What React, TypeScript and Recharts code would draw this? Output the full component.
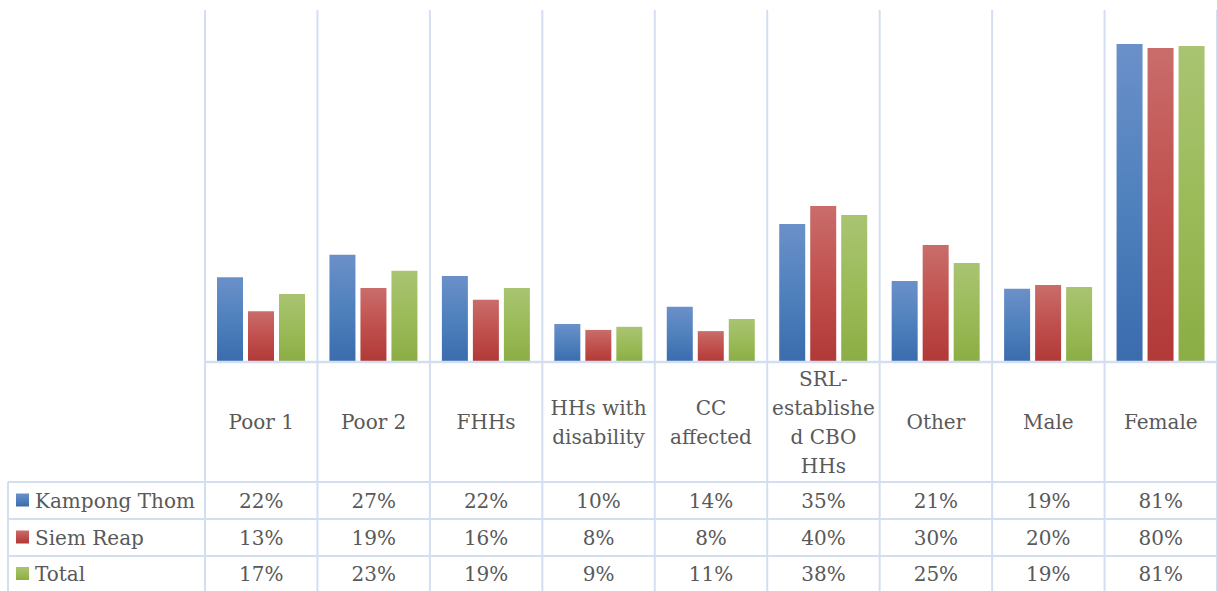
import React from 'react';
import { BarChart, Bar, XAxis, YAxis } from 'recharts';

const categories = ['Poor 1', 'Poor 2', 'FHHs', 'HHs with disability', 'CC affected', 'SRL-established CBO HHs', 'Other', 'Male', 'Female'];
const categoryLines = [['Poor 1'], ['Poor 2'], ['FHHs'], ['HHs with', 'disability'], ['CC', 'affected'], ['SRL-', 'establishe', 'd CBO', 'HHs'], ['Other'], ['Male'], ['Female']];
const kampongThom = [0.217, 0.274, 0.22, 0.097, 0.141, 0.353, 0.207, 0.187, 0.813];
const siemReap = [0.13, 0.189, 0.159, 0.082, 0.079, 0.399, 0.299, 0.197, 0.803];
const total = [0.174, 0.233, 0.189, 0.09, 0.11, 0.376, 0.253, 0.192, 0.808];
const seriesNames = ['Kampong Thom', 'Siem Reap', 'Total'];
const seriesKeys = ['kt', 'sr', 'total'];
const seriesValues = [kampongThom, siemReap, total];
const seriesColors = ['#4f81bd', '#c0504d', '#9bbb59'];
const gradTop = ['#6b90c9', '#c96d6b', '#a9c472'];
const gradBottom = ['#3a6cae', '#b13937', '#8bad44'];

const data = categories.map((name, i) => ({ name, kt: kampongThom[i], sr: siemReap[i], total: total[i] }));

const W = 1217;
const H = 591;
const LEFT = 205;
const TOP = 10;
const BASE = 362;
const BW = (W - LEFT) / categories.length;
const ROW_LINES = [482, 519, 556];
const ROW_CENTERS = [500.5, 537.5, 574];
const LINE = '#d3dff1';
const TEXT = '#595959';
const FONT = '"DejaVu Serif", serif';
const FS = 20;

const pct = (v: number) => `${Math.round(v * 100)}%`;

const Tick = (props: any) => {
  const { x, payload } = props;
  const i = props.index ?? payload.index;
  const half = payload && payload.offset ? payload.offset : BW / 2;
  const left = x - half;
  const right = x + half;
  const lines = categoryLines[i];
  const lh = 29;
  const hc = 422;
  return (
    <g>
      <line x1={left} x2={left} y1={TOP} y2={H + 5} stroke={LINE} strokeWidth={2} />
      {i === categories.length - 1 && (
        <line x1={right} x2={right} y1={TOP} y2={H + 5} stroke={LINE} strokeWidth={2} />
      )}
      <line x1={left} x2={right} y1={BASE} y2={BASE} stroke={LINE} strokeWidth={2.5} />
      {ROW_LINES.map((y) => (
        <line key={y} x1={left} x2={right} y1={y} y2={y} stroke={LINE} strokeWidth={2} />
      ))}
      {lines.map((t, k) => (
        <text key={k} x={x} y={hc + (k - (lines.length - 1) / 2) * lh} dy="0.35em" textAnchor="middle" fill={TEXT} fontSize={FS} fontFamily={FONT}>
          {t}
        </text>
      ))}
      {seriesValues.map((vals, s) => (
        <text key={s} x={x} y={ROW_CENTERS[s]} dy="0.35em" textAnchor="middle" fill={TEXT} fontSize={FS} fontFamily={FONT}>
          {pct(vals[i])}
        </text>
      ))}
      {i === 0 && (
        <g>
          <line x1={8} x2={8} y1={ROW_LINES[0]} y2={H + 5} stroke={LINE} strokeWidth={2} />
          {ROW_LINES.map((y) => (
            <line key={'l' + y} x1={8} x2={left} y1={y} y2={y} stroke={LINE} strokeWidth={2} />
          ))}
          {seriesNames.map((n, s) => (
            <g key={n}>
              <rect x={16} y={ROW_CENTERS[s] - 7} width={13} height={13} fill={`url(#grad${s})`} />
              <text x={35} y={ROW_CENTERS[s]} dy="0.35em" textAnchor="start" fill={TEXT} fontSize={FS} fontFamily={FONT}>
                {n}
              </text>
            </g>
          ))}
        </g>
      )}
    </g>
  );
};

export default function App() {
  return (
    <div style={{ position: 'absolute', left: 0, top: 0, width: W, height: H, background: '#fff' }}>
      <BarChart width={W} height={H} data={data} margin={{ top: TOP, right: 0, left: LEFT, bottom: 0 }} barCategoryGap={12} barGap={5}>
        <defs>
          {seriesColors.map((c, s) => (
            <linearGradient key={s} id={`grad${s}`} x1="0" y1="0" x2="0" y2="1">
              <stop offset="0%" stopColor={gradTop[s]} />
              <stop offset="50%" stopColor={c} />
              <stop offset="100%" stopColor={gradBottom[s]} />
            </linearGradient>
          ))}
        </defs>
        <XAxis dataKey="name" height={H - BASE} axisLine={false} tickLine={false} interval={0} tick={<Tick />} />
        <YAxis hide domain={[0, 0.9]} allowDataOverflow />
        {seriesKeys.map((k, s) => (
          <Bar key={k} dataKey={k} name={seriesNames[s]} fill={`url(#grad${s})`} isAnimationActive={false} />
        ))}
      </BarChart>
    </div>
  );
}
